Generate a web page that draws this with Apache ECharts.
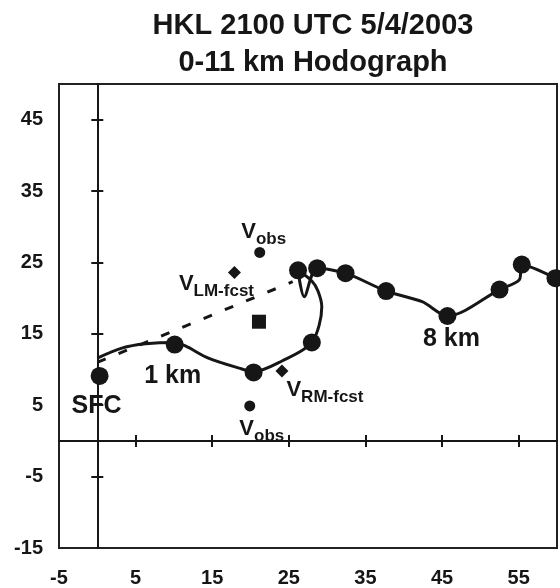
<!DOCTYPE html>
<html>
<head>
<meta charset="utf-8">
<script src="https://cdn.jsdelivr.net/npm/echarts@6/dist/echarts.min.js"></script>
<style>
  html, body { margin: 0; padding: 0; background: #fff; }
  #main { width: 560px; height: 588px; }
</style>
</head>
<body>
<div id="main"></div>
<script>
// hodograph trace (u, v)
const traceLine = [
  [0, 11.6], [3.2, 13.0], [6.3, 13.6], [10.1, 13.8], [11.5, 13.3], [14.5, 11.6],
  [18.5, 10.2], [20.4, 9.7], [24.1, 11.2], [28.0, 13.8], [29.3, 18.8], [28.8, 21.0],
  [28.0, 22.4], [26.2, 23.9], [27.0, 20.2], [28.7, 24.2], [32.4, 23.5], [37.7, 21.0],
  [42.4, 19.5], [45.7, 17.5], [52.5, 21.2], [55.1, 22.6], [55.4, 24.7], [59.8, 22.8]
];
// 1 km level markers
const levelPoints = [
  [0.3, 9.1], [10.1, 13.5], [20.4, 9.6], [28.0, 13.8], [26.2, 23.9], [28.7, 24.2],
  [32.4, 23.5], [37.7, 21.0], [45.7, 17.5], [52.5, 21.2], [55.4, 24.7], [59.8, 22.8]
];
const dashLine = [[0, 11.0], [25.5, 22.3]];
const obsTop = [21.2, 26.4];
const obsBottom = [19.9, 4.9];
const lmFcst = [17.9, 23.6];
const rmFcst = [24.1, 9.8];
const meanWind = [21.1, 16.7];

const xLabels = [-5, 5, 15, 25, 35, 45, 55];
const yLabels = [-15, -5, 5, 15, 25, 35, 45];
const xTicks = [5, 15, 25, 35, 45, 55];
const yTicks = [-5, 5, 15, 25, 35, 45];

const ink = '#161616';
const font = '"Liberation Sans", Arial, sans-serif';

const myChart = echarts.init(document.getElementById('main'));

const subRich = {
  v: { fontSize: 22, fontWeight: 'bold', color: ink, fontFamily: font, lineHeight: 22, verticalAlign: 'top' },
  s: { fontSize: 17, fontWeight: 'bold', color: ink, fontFamily: font, lineHeight: 17, verticalAlign: 'top', padding: [10, 0, 0, 0] }
};

function labelAxis(dim, values) {
  return {
    type: 'value',
    min: dim === 'x' ? -5 : -15,
    max: dim === 'x' ? 60 : 50,
    position: dim === 'x' ? 'bottom' : 'left',
    axisLine: { show: false, onZero: false },
    axisTick: { show: false },
    splitLine: { show: false },
    axisLabel: {
      customValues: values,
      fontSize: 20,
      fontWeight: 'bold',
      fontFamily: font,
      color: ink,
      margin: dim === 'x' ? 20 : 16
    }
  };
}

// the zero lines carry ticks on both sides: two axes, one per side
function tickAxis(dim, values, position, zeroIndex) {
  return {
    type: 'value',
    min: dim === 'x' ? -5 : -15,
    max: dim === 'x' ? 60 : 50,
    position: position,
    axisLine: { show: true, onZero: true, onZeroAxisIndex: zeroIndex, lineStyle: { color: ink, width: 2 } },
    axisTick: { show: true, inside: false, length: 6, customValues: values, lineStyle: { color: ink, width: 2 } },
    axisLabel: { show: false },
    splitLine: { show: false }
  };
}

myChart.setOption({
  animation: false,
  title: {
    text: 'HKL 2100 UTC 5/4/2003\n0-11 km Hodograph',
    left: 308,
    top: 2,
    textAlign: 'center',
    textStyle: { fontSize: 29, fontWeight: 'bold', fontFamily: font, color: ink, lineHeight: 37 }
  },
  grid: {
    left: 59, top: 84, width: 498, height: 464,
    show: true, borderColor: '#222', borderWidth: 2, backgroundColor: '#fff'
  },
  xAxis: [
    labelAxis('x', xLabels),
    tickAxis('x', xTicks, 'bottom', 1),
    tickAxis('x', xTicks, 'top', 2)
  ],
  yAxis: [
    labelAxis('y', yLabels),
    tickAxis('y', yTicks, 'left', 1),
    tickAxis('y', yTicks, 'right', 2)
  ],
  series: [
    {
      name: 'mean shear',
      type: 'line',
      data: dashLine,
      symbol: 'none',
      lineStyle: { color: ink, width: 3, type: [9, 14] },
      z: 3
    },
    {
      name: 'hodograph',
      type: 'line',
      data: traceLine,
      smooth: 0.3,
      symbol: 'none',
      lineStyle: { color: ink, width: 3 },
      z: 4
    },
    {
      name: 'levels',
      type: 'scatter',
      data: levelPoints.map((p, i) => {
        const item = { value: p };
        if (i === 0) item.label = { show: true, formatter: 'SFC', offset: [-3, 30] };
        if (i === 1) item.label = { show: true, formatter: '1 km', offset: [-2, 32] };
        if (i === 8) item.label = { show: true, formatter: '8 km', offset: [4, 23] };
        return item;
      }),
      symbol: 'circle',
      symbolSize: 18,
      itemStyle: { color: ink, opacity: 1 },
      label: {
        position: 'inside',
        fontSize: 25,
        fontWeight: 'bold',
        fontFamily: font,
        color: ink
      },
      z: 5
    },
    {
      name: 'Vobs',
      type: 'scatter',
      data: [
        { value: obsTop, label: { offset: [4, -21] } },
        { value: obsBottom, label: { offset: [12, 23] } }
      ],
      symbol: 'circle',
      symbolSize: 11,
      itemStyle: { color: ink, opacity: 1 },
      label: { show: true, position: 'inside', formatter: '{v|V}{s|obs}', rich: subRich },
      z: 5
    },
    {
      name: 'fcst',
      type: 'scatter',
      data: [
        { value: lmFcst, label: { formatter: '{v|V}{s|LM-fcst}', offset: [-18, 11] } },
        { value: rmFcst, label: { formatter: '{v|V}{s|RM-fcst}', offset: [43, 19] } }
      ],
      symbol: 'diamond',
      symbolSize: 13,
      itemStyle: { color: ink, opacity: 1 },
      label: { show: true, position: 'inside', rich: subRich },
      z: 5
    },
    {
      name: 'mean wind',
      type: 'scatter',
      data: [meanWind],
      symbol: 'rect',
      symbolSize: 14,
      itemStyle: { color: ink, opacity: 1 },
      z: 5
    }
  ]
});

window.addEventListener('resize', function () {
  myChart.resize();
});
</script>
</body>
</html>
